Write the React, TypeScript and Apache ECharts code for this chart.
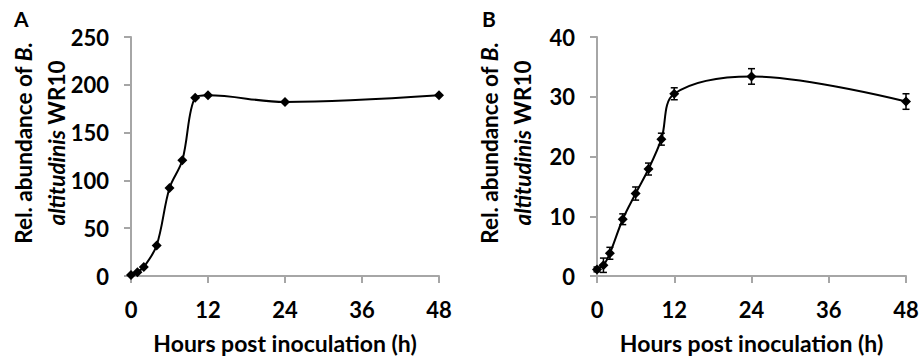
import React, { useEffect, useRef } from "react";
import * as echarts from "echarts";

const hoursA = [0, 1, 2, 4, 6, 8, 10, 12, 24, 48];
const abundanceA = [1, 4, 9.5, 32, 92, 121, 186.5, 189, 182, 189];
const hoursB = [0, 1, 2, 4, 6, 8, 10, 12, 24, 48];
const abundanceB = [1.1, 1.8, 3.8, 9.5, 13.8, 17.9, 22.9, 30.5, 33.4, 29.2];
const errorB = [0.4, 1.2, 1.0, 0.9, 1.1, 1.0, 1.0, 1.0, 1.3, 1.3];
const xTickValues = [0, 12, 24, 36, 48];
const yMaxA = 250;
const yStepA = 50;
const yMaxB = 40;
const yStepB = 10;
const xTitle = "Hours post inoculation (h)";
const panelLabels = ["A", "B"];

const FONT = "Lato";
const AXIS_COLOR = "#A6A6A6";

export default function App() {
  const ref = useRef<HTMLDivElement>(null);
  useEffect(() => {
    if (!ref.current) return;
    const chart = echarts.init(ref.current, null, { renderer: "svg" });
    const xAxisBase = (gridIndex: number) => ({
      type: "value",
      gridIndex,
      min: xTickValues[0],
      max: xTickValues[xTickValues.length - 1],
      interval: xTickValues[1] - xTickValues[0],
      axisLine: { show: true, lineStyle: { color: AXIS_COLOR, width: 2 } },
      axisTick: { show: true, length: 7, lineStyle: { color: AXIS_COLOR, width: 2 } },
      splitLine: { show: false },
      axisLabel: { fontFamily: FONT, fontWeight: "bold", fontSize: 22, color: "#000", margin: 22 },
      name: xTitle,
      nameLocation: "middle",
      nameGap: 55,
      nameTextStyle: { fontFamily: FONT, fontWeight: "bold", fontSize: 23, color: "#000" },
    });
    const yAxisBase = (gridIndex: number, max: number, step: number) => ({
      type: "value",
      gridIndex,
      min: 0,
      max,
      interval: step,
      axisLine: { show: true, lineStyle: { color: AXIS_COLOR, width: 2 } },
      axisTick: { show: true, length: 7, lineStyle: { color: AXIS_COLOR, width: 2 } },
      splitLine: { show: false },
      axisLabel: { fontFamily: FONT, fontWeight: "bold", fontSize: 22, color: "#000", margin: 22 },
    });
    const richTitle = {
      n: { fontFamily: FONT, fontWeight: "bold", fontSize: 22.5, fill: "#000", lineHeight: 33 },
      i: { fontFamily: FONT, fontWeight: "bold", fontStyle: "italic", fontSize: 22.5, fill: "#000", lineHeight: 33 },
    };
    const yTitle = (x: number) => ({
      type: "text",
      x,
      y: 143,
      rotation: Math.PI / 2,
      style: {
        text: "{n|Rel. abundance of }{i|B.}\n{i|altitudinis}{n| WR10}",
        rich: richTitle,
        align: "center",
        verticalAlign: "middle",
        fontFamily: FONT,
        fontWeight: "bold",
        fontSize: 22.5,
        fill: "#000",
      },
    });
    const panel = (x: number, label: string) => ({
      type: "text",
      x,
      y: 8,
      style: { text: label, fontFamily: FONT, fontWeight: "bold", fontSize: 21, fill: "#000" },
    });
    const lineSeries = (idx: number, xs: number[], ys: number[]) => ({
      type: "line",
      xAxisIndex: idx,
      yAxisIndex: idx,
      data: xs.map((h, i) => [h, ys[i]]),
      smooth: 0.35,
      symbol: "diamond",
      symbolSize: 10,
      clip: false,
      lineStyle: { color: "#000", width: 2 },
      itemStyle: { color: "#000" },
      z: 3,
    });
    chart.setOption({
      animation: false,
      grid: [
        { left: 131, top: 37, width: 308, height: 239, outerBoundsMode: "none", containLabel: false },
        { left: 597, top: 37, width: 309, height: 239, outerBoundsMode: "none", containLabel: false },
      ],
      xAxis: [xAxisBase(0), xAxisBase(1)],
      yAxis: [yAxisBase(0, yMaxA, yStepA), yAxisBase(1, yMaxB, yStepB)],
      series: [
        lineSeries(0, hoursA, abundanceA),
        lineSeries(1, hoursB, abundanceB),
        {
          type: "custom",
          xAxisIndex: 1,
          yAxisIndex: 1,
          data: hoursB.map((h, i) => [h, abundanceB[i], errorB[i]]),
          encode: { x: 0, y: 1 },
          z: 4,
          renderItem: (params: any, api: any) => {
            const x = api.value(0);
            const y = api.value(1);
            const e = api.value(2);
            const top = api.coord([x, y + e]);
            const bot = api.coord([x, y - e]);
            const w = 3.5;
            const style = { stroke: "#000", lineWidth: 1.5 };
            return {
              type: "group",
              children: [
                { type: "line", shape: { x1: top[0], y1: top[1], x2: bot[0], y2: bot[1] }, style },
                { type: "line", shape: { x1: top[0] - w, y1: top[1], x2: top[0] + w, y2: top[1] }, style },
                { type: "line", shape: { x1: bot[0] - w, y1: bot[1], x2: bot[0] + w, y2: bot[1] }, style },
              ],
            };
          },
        },
      ],
      graphic: [yTitle(40), yTitle(506), panel(14, panelLabels[0]), panel(482, panelLabels[1])],
    });
    return () => chart.dispose();
  }, []);
  return (
    <div
      ref={ref}
      style={{ position: "fixed", left: 0, top: 0, width: 921, height: 356, background: "#fff" }}
    />
  );
}
